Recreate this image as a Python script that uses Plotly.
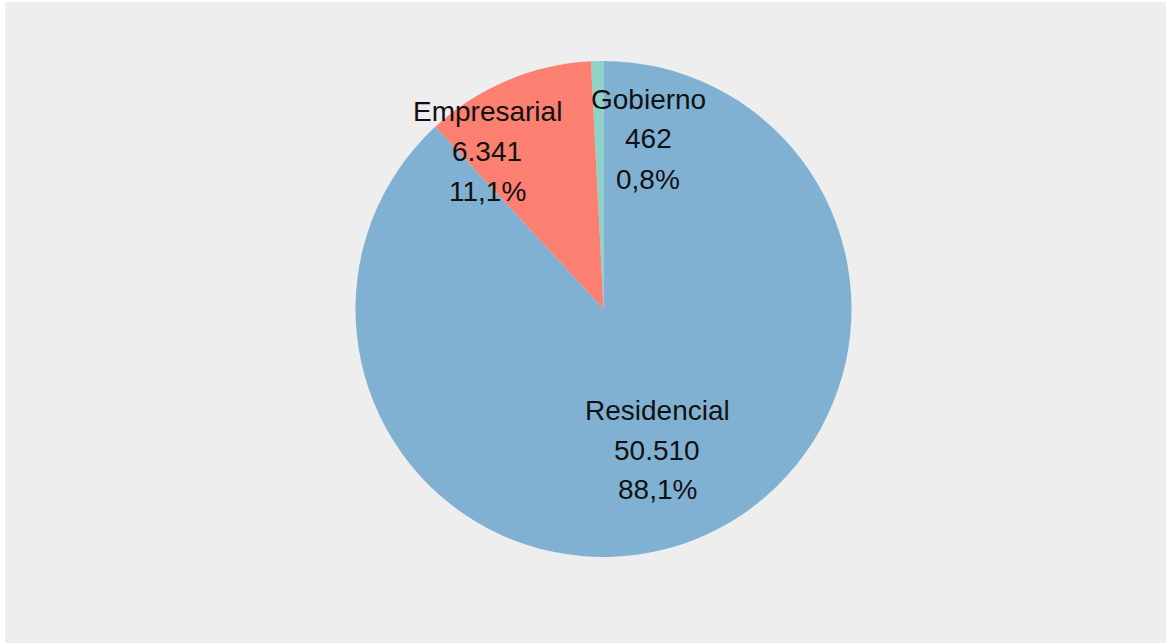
import plotly.graph_objects as go

categories = ["Gobierno", "Empresarial", "Residencial"]
values = [462, 6341, 50510]
colors = ["#8DD3C7", "#FB8072", "#80B1D3"]

W, H = 1166, 643
total = sum(values)

def fmt_int(v):
    return f"{v:,}".replace(",", ".")

def fmt_pct(v):
    return f"{100 * v / total:.1f}%".replace(".", ",")

fig = go.Figure()
cx, cy, r = 603.5, 309, 248
fig.add_trace(go.Pie(
    labels=categories, values=values, sort=False,
    direction="counterclockwise", rotation=-360 * values[0] / total,
    marker=dict(colors=colors, line=dict(width=0)),
    textinfo="none", hoverinfo="skip", showlegend=False,
    domain=dict(x=[(cx - r) / W, (cx + r) / W], y=[(H - cy - r) / H, (H - cy + r) / H]),
))

# label block centers (pixels, from top-left) – styling only
label_pos = {"Gobierno": (648, 99), "Empresarial": (487, 111), "Residencial": (657, 410)}
line_gap = 40
annotations = []
for cat, v in zip(categories, values):
    px, py = label_pos[cat]
    for i, t in enumerate([cat, fmt_int(v), fmt_pct(v)]):
        annotations.append(dict(
            x=px / W, y=1 - (py + i * line_gap) / H, xref="paper", yref="paper",
            text=t, showarrow=False, xanchor="center", yanchor="middle",
            font=dict(family="Liberation Sans, Arial, sans-serif", size=28, color="#111111"),
        ))

fig.update_layout(
    width=W, height=H, margin=dict(l=0, r=0, t=0, b=0),
    paper_bgcolor="#FFFFFF", plot_bgcolor="#FFFFFF",
    annotations=annotations,
    shapes=[dict(type="rect", xref="paper", yref="paper", x0=5 / W, x1=1, y0=0, y1=1 - 2 / H,
                 fillcolor="#EEEEEE", line=dict(width=0), layer="below")],
)
fig.write_html("out.html", config={"displayModeBar": False},
               post_script="document.body.style.margin='0';document.body.style.background='#EEEEEE';")
